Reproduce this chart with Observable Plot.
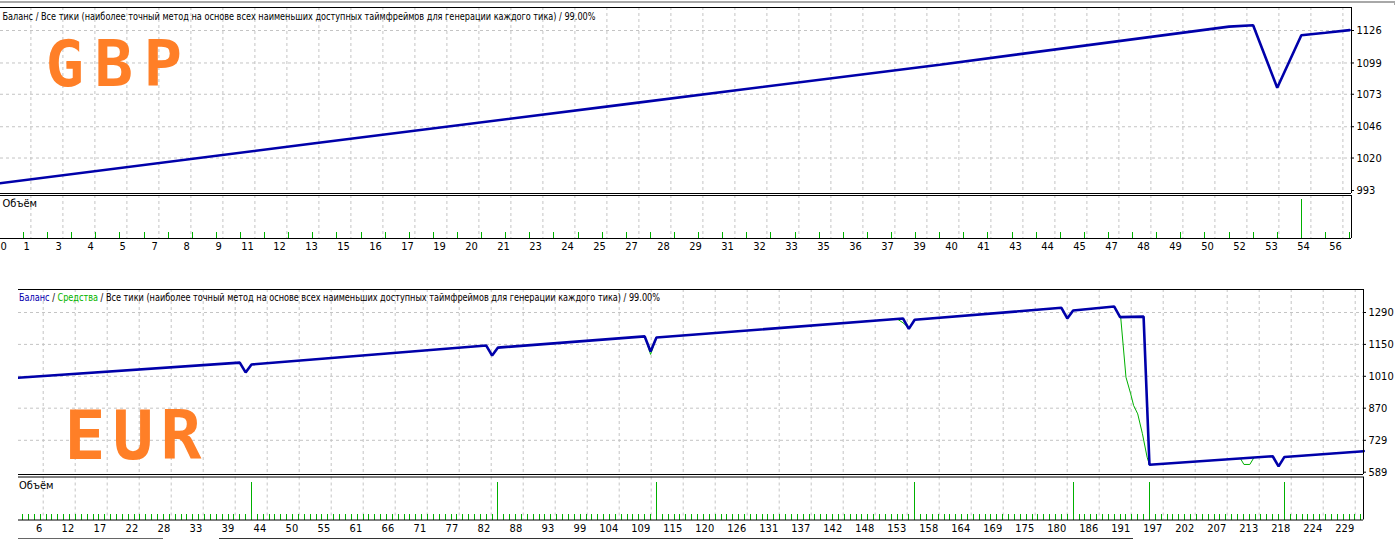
<!DOCTYPE html>
<html><head><meta charset="utf-8">
<script src="https://cdn.jsdelivr.net/npm/d3@7"></script>
<script src="https://cdn.jsdelivr.net/npm/@observablehq/plot@0.6"></script>
<style>
html,body{margin:0;padding:0;background:#fff;}
#page{position:relative;width:1400px;height:556px;overflow:hidden;background:#fff;}
#page svg{position:absolute;left:0;top:0;max-width:none !important;}
.clip{position:absolute;overflow:hidden;}
.deco{position:absolute;}
</style></head><body><div id="page"></div>
<script>
// ================= DATA =================
const topHeader = "Баланс / Все тики (наиболее точный метод на основе всех наименьших доступных таймфреймов для генерации каждого тика) / 99.00%";
const bottomHeaderParts = ["Баланс", " / ", "Средства", " / Все тики (наиболее точный метод на основе всех наименьших доступных таймфреймов для генерации каждого тика) / 99.00%"];
const volumeTitle = "Объём";
const gbpTitle = "GBP";
const eurTitle = "EUR";

// GBP test (top)
const gbpTrade   = [0, 13, 26, 39, 51, 52, 53, 54, 55, 56];
const gbpBalance = [999, 1032, 1064.8, 1097.6, 1129.2, 1130.4, 1078.4, 1122.1, 1124.1, 1126.3];
const gbpYTicks  = [993, 1020, 1046, 1073, 1099, 1126];
const gbpXLabels = [0,1,3,4,5,7,8,9,11,12,13,15,16,17,19,20,21,23,24,25,27,28,29,31,32,33,35,36,37,39,40,41,43,44,45,47,48,49,50,52,53,54,56];
const gbpVolFirst = 1, gbpVolLast = 56, gbpVolLot = 0.1;
const gbpVolBigTrades = [54], gbpVolBigLots = [0.6];

// EUR test (bottom)
const eurBalTrade = [0, 40, 41, 42, 82, 83, 84, 109, 110, 111, 153, 154, 155, 180, 181, 182, 189, 190, 194, 195, 216, 217, 218, 231.5];
const eurBalance  = [1000, 1070, 1027, 1062, 1145, 1101, 1136, 1185, 1119, 1180, 1264, 1218, 1258, 1310.6, 1263.7, 1299, 1316.3, 1269.5, 1272, 621.6, 659, 614.5, 656, 681.3];
const eurEqTrade  = [0, 40, 41, 42, 82, 83, 84, 109, 110, 111, 152, 153, 154, 155, 180, 181, 182, 189, 190.1, 191, 191.8, 192.3, 193, 193.8, 194.6, 195, 210.5, 211.1, 212.1, 212.8, 216, 217, 218, 231.5];
const eurEquity   = [1000, 1070, 1027, 1062, 1145, 1101, 1136, 1185, 1106, 1180, 1262, 1245, 1222, 1258, 1310.6, 1263.7, 1299, 1316.3, 1269.5, 1006, 933, 882, 845, 758, 655, 621.6, 649, 623, 623, 653, 659, 614.5, 656, 681.3];
const eurYTicks   = [589, 729, 870, 1010, 1150, 1290];
const eurXLabels  = [6,12,17,22,28,33,39,44,50,55,61,66,71,77,82,88,93,99,104,109,115,120,126,131,137,142,148,153,158,164,169,175,180,186,191,197,202,207,213,218,224,229];
const eurVolFirst = 3, eurVolLast = 231, eurVolLot = 0.03;
const eurVolBigTrades = [42, 84, 111, 155, 182, 195, 218], eurVolBigLots = [0.2, 0.2, 0.2, 0.2, 0.2, 0.2, 0.2];

// ================= STYLE / LAYOUT =================
const W = 1400, H = 556;
const FONT = "Tahoma, 'Liberation Sans Narrow', 'DejaVu Sans Condensed', 'Liberation Sans', sans-serif";
const BLUE = "#0000aa", GREEN = "#00b000", GRID = "#c4c4c4", ORANGE = "#ff7f27";
const DASH = "3,3";

const topL = {left: 0, right: 1351, xA: -1.1, xB: 24.11, gridX0: -1.6, gridStep: 32,
  main: {top: 7, bottom: 193, v0: 993, p0: 190, v1: 1126, p1: 30},
  vol: {top: 195, bottom: 238, volPx: 65}};
const botL = {left: 18, right: 1363, xA: 4.5, xB: 5.869, gridX0: 42.7, gridStep: 32,
  main: {top: 289, bottom: 474, v0: 589, p0: 471.7, v1: 1290, p1: 312},
  vol: {top: 476.5, bottom: 519.5, volPx: 186.5}};

const page = document.getElementById("page");

function rows(ts, vs) { return ts.map((t, i) => ({t, v: vs[i]})); }
function volRows(first, last, lot, bigT, bigL) {
  const out = [];
  for (let t = first; t <= last; t++) {
    const k = bigT.indexOf(t);
    out.push({t, lot: k >= 0 ? bigL[k] : lot});
  }
  return out;
}
function xDomain(L) { return [(L.left - L.xA) / L.xB, (L.right - L.xA) / L.xB]; }
function gridTs(L, n) { return d3.range(n).map(i => (L.gridX0 + L.gridStep * i - L.xA) / L.xB); }
function mainYDomain(m) {
  const f = p => m.v0 + (p - m.p0) * (m.v1 - m.v0) / (m.p1 - m.p0);
  return [f(m.bottom), f(m.top)];
}

function basePlot(L, panel, yDom, marks) {
  return Plot.plot({
    width: W, height: H,
    marginLeft: L.left, marginRight: W - L.right, marginTop: panel.top, marginBottom: H - panel.bottom,
    x: {type: "linear", domain: xDomain(L), axis: null},
    y: {type: "linear", domain: yDom, axis: null},
    style: {background: "transparent", fontFamily: FONT, fontSize: "11px", color: "black", overflow: "visible", maxWidth: "none"},
    marks
  });
}

function borders(L, yDom) {
  const xd = xDomain(L);
  return [
    Plot.ruleY([yDom[1]], {stroke: "black", strokeWidth: 1}),
    Plot.ruleY([yDom[0]], {stroke: "black", strokeWidth: 1}),
    Plot.ruleX([xd[1]], {stroke: "black", strokeWidth: 1})
  ];
}

function mainPanel(L, opts) {
  const yDom = mainYDomain(L.main);
  const xd = xDomain(L);
  const gts = gridTs(L, opts.nGrid);
  const tickLen = 3 / L.xB;
  return basePlot(L, L.main, yDom, [
    Plot.ruleY(opts.yTicks.slice(1), {stroke: GRID, strokeDasharray: DASH}),
    Plot.ruleX(gts, {stroke: GRID, strokeDasharray: DASH}),
    Plot.text([opts.title], {frameAnchor: "top-left", lineAnchor: "middle", dx: opts.titleDx, dy: opts.titleDy, text: d => d,
      textAnchor: "start", fill: ORANGE, fontSize: opts.titleSize, fontWeight: "bold",
      fontFamily: "'DejaVu Sans Mono', monospace"}),
    Plot.text([opts.header], {frameAnchor: "top-left", lineAnchor: "middle",
      dx: opts.headerDx, dy: opts.headerDy, text: d => d, textAnchor: "start", fill: "black", fontSize: 11}),
    ...(opts.equity ? [Plot.line(opts.equity, {x: "t", y: "v", stroke: GREEN, strokeWidth: 1})] : []),
    Plot.line(opts.balance, {x: "t", y: "v", stroke: BLUE, strokeWidth: 2.6, strokeLinejoin: "miter"}),
    ...borders(L, yDom),
    Plot.ruleY(opts.yTicks, {y: d => d, x1: () => xd[1], x2: () => xd[1] + tickLen, stroke: "black"}),
    Plot.text(opts.yTicks, {y: d => d, frameAnchor: "right", lineAnchor: "middle", dx: 5, text: d => String(d), textAnchor: "start", fill: "black", fontSize: 11})
  ]);
}

function volPanel(L, opts) {
  const v = L.vol;
  const yDom = [0, (v.bottom - v.top) / v.volPx];
  const gts = gridTs(L, opts.labels.length);
  const labelRows = opts.labels.map((lab, i) => ({t: gts[i], lab}));
  const marks = [
    Plot.ruleX(gts, {stroke: GRID, strokeDasharray: DASH}),
    Plot.ruleX(opts.vol, {x: "t", y1: () => 0, y2: "lot", stroke: GREEN, strokeWidth: 1, shapeRendering: "crispEdges"}),
    Plot.text([volumeTitle], {frameAnchor: "top-left", lineAnchor: "middle", dx: opts.titleDx, dy: opts.titleDy, text: d => d, textAnchor: "start", fill: "black", fontSize: 11}),
    ...borders(L, yDom)
  ];
  if (opts.firstStart) {
    marks.push(Plot.text([labelRows[0].lab], {frameAnchor: "bottom-left", lineAnchor: "middle", dy: opts.labelDy, text: d => String(d), textAnchor: "start", fill: "black", fontSize: 11}));
    marks.push(Plot.text(labelRows.slice(1), {x: "t", frameAnchor: "bottom", lineAnchor: "middle", dy: opts.labelDy, dx: -1, text: d => String(d.lab), textAnchor: "end", fill: "black", fontSize: 11}));
  } else {
    marks.push(Plot.text(labelRows, {x: "t", frameAnchor: "bottom", lineAnchor: "middle", dy: opts.labelDy, dx: -1, text: d => String(d.lab), textAnchor: "end", fill: "black", fontSize: 11}));
  }
  return basePlot(L, v, yDom, marks);
}

function selText(svg, str) {
  return d3.select(svg).selectAll("text").filter(function () { return this.textContent === str; });
}
function fitText(svg, str, len) {
  selText(svg, str).attr("textLength", len).attr("lengthAdjust", "spacingAndGlyphs");
}
function spaceLetters(svg, str, ls) { selText(svg, str).style("letter-spacing", ls + "px"); }

// colour the parts of one header text with a hard-stop gradient (single text element)
const measureCtx = document.createElement("canvas").getContext("2d");
function colourHeader(svg, parts, colors, totalLen, id) {
  measureCtx.font = "11px " + FONT;
  const full = parts.join("");
  const sel = selText(svg, full);
  const node = sel.node();
  if (!node) return;
  const bb = node.getBBox();
  const startX = bb.x;
  const k = totalLen / measureCtx.measureText(full).width;
  const stops = [];
  let prefix = "";
  parts.forEach((p, i) => {
    const lead = p.length - p.trimStart().length;
    const from = i === 0 ? startX - 50 : startX + measureCtx.measureText(prefix + p.slice(0, lead)).width * k - 1;
    stops.push({from, c: colors[i]});
    prefix += p;
  });
  const x1 = startX - 50, x2 = startX + totalLen + 50;
  const grad = d3.select(svg).append("defs").append("linearGradient")
    .attr("id", id).attr("gradientUnits", "userSpaceOnUse")
    .attr("x1", x1).attr("x2", x2).attr("y1", 0).attr("y2", 0);
  const f = x => Math.max(0, Math.min(1, (x - x1) / (x2 - x1)));
  stops.forEach((s, i) => {
    const end = i + 1 < stops.length ? stops[i + 1].from : x2;
    grad.append("stop").attr("offset", f(s.from)).attr("stop-color", s.c);
    grad.append("stop").attr("offset", f(end)).attr("stop-color", s.c);
  });
  sel.attr("fill", `url(#${id})`);
}

// ---------- top (GBP) ----------
const topMain = mainPanel(topL, {
  nGrid: gbpXLabels.length, yTicks: gbpYTicks, balance: rows(gbpTrade, gbpBalance),
  title: gbpTitle, titleDx: 45, titleDy: 58.5, titleSize: 64,
  header: topHeader, headerDx: 2, headerDy: 9
});
fitText(topMain, topHeader, 593);
spaceLetters(topMain, gbpTitle, 10.5);
page.appendChild(topMain);

const topVol = volPanel(topL, {
  labels: gbpXLabels, vol: volRows(gbpVolFirst, gbpVolLast, gbpVolLot, gbpVolBigTrades, gbpVolBigLots),
  titleDx: 2, titleDy: 7.7, labelDy: 8, firstStart: true
});
page.appendChild(topVol);

// ---------- bottom (EUR) ----------
const clip = document.createElement("div");
clip.className = "clip";
clip.style.left = "18px"; clip.style.top = "0px"; clip.style.width = (W - 18) + "px"; clip.style.height = H + "px";
page.appendChild(clip);

const bottomHeader = bottomHeaderParts.join("");
const botHeaderX = 18.5, botHeaderLen = 641;
const botMain = mainPanel(botL, {
  nGrid: eurXLabels.length, yTicks: eurYTicks,
  balance: rows(eurBalTrade, eurBalance), equity: rows(eurEqTrade, eurEquity),
  title: eurTitle, titleDx: 46, titleDy: 148.2, titleSize: 68,
  header: bottomHeader, headerDx: botHeaderX - botL.left, headerDy: 8
});
fitText(botMain, bottomHeader, botHeaderLen);
spaceLetters(botMain, eurTitle, 7);
botMain.style.left = "-18px";
clip.appendChild(botMain);
colourHeader(botMain, bottomHeaderParts, [BLUE, "black", GREEN, "black"], botHeaderLen, "hdrGradEur");

const botVol = volPanel(botL, {
  labels: eurXLabels, vol: volRows(eurVolFirst, eurVolLast, eurVolLot, eurVolBigTrades, eurVolBigLots),
  titleDx: 0.5, titleDy: 8.5, labelDy: 8.5, firstStart: false
});
botVol.style.left = "-18px";
clip.appendChild(botVol);

// ---------- window decorations ----------
function deco(l, t, w, h, c) {
  const d = document.createElement("div");
  d.className = "deco";
  Object.assign(d.style, {left: l + "px", top: t + "px", width: w + "px", height: h + "px", background: c});
  page.appendChild(d);
}
deco(0, 1, 1395, 2, "#a8a8a8");
deco(1394, 1, 1, 4, "#a8a8a8");
deco(18, 538, 145, 1, "#666");
deco(219, 538, 914, 1, "#333");
</script>
</body></html>
